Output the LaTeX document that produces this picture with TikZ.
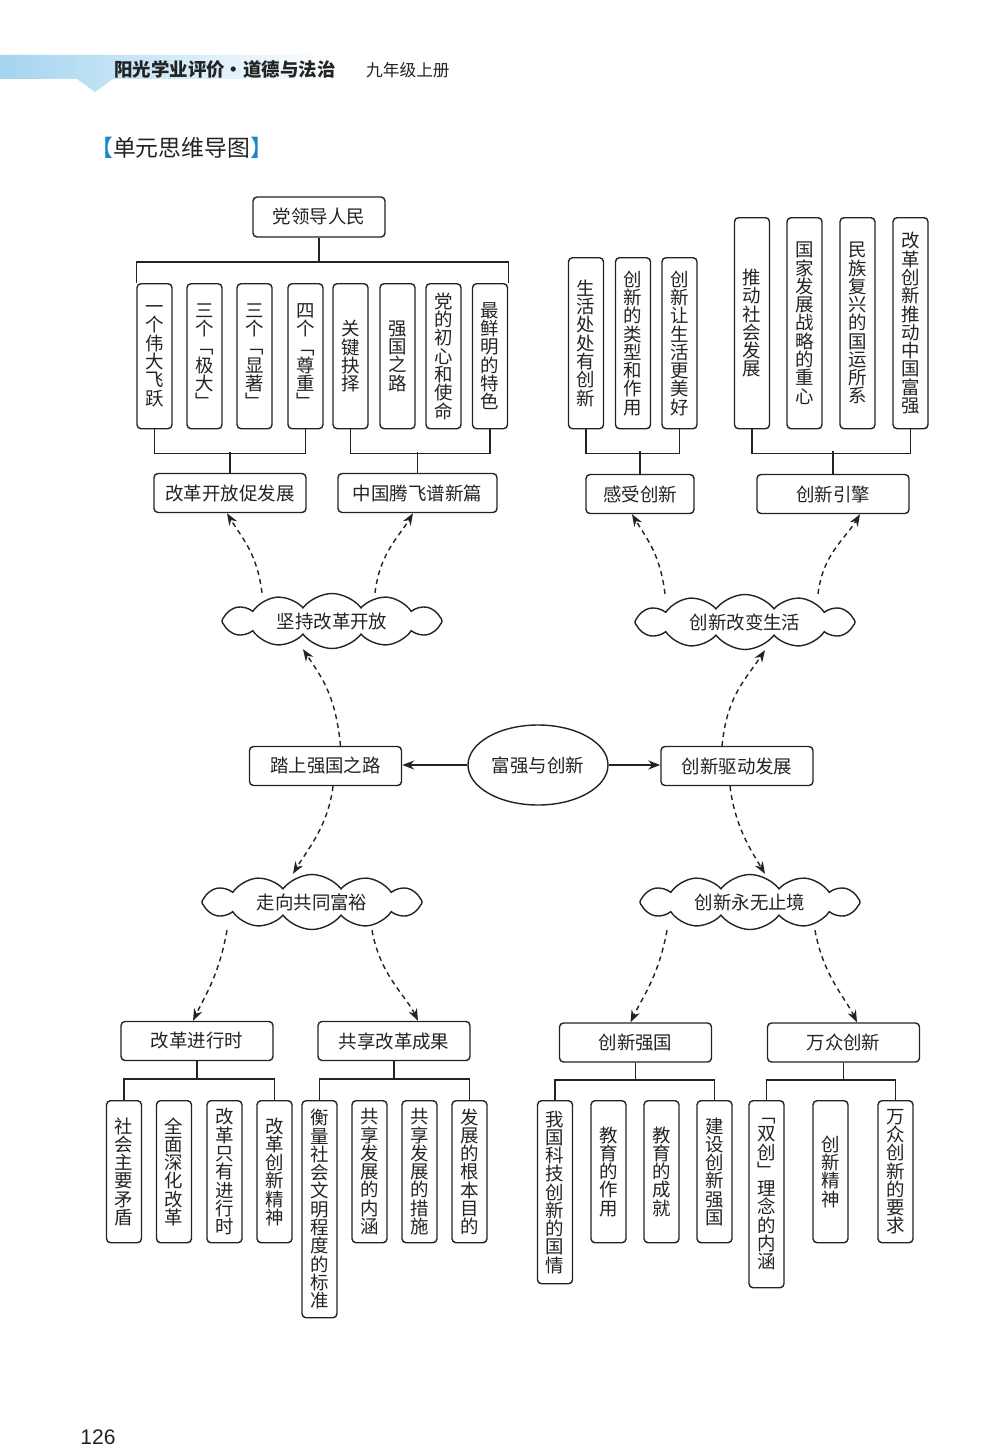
\documentclass[tikz,border=0pt]{standalone}
\usepackage{fontspec}
\setmainfont{Noto Sans CJK SC}
\newfontfamily\numfont{Liberation Sans}
\usetikzlibrary{shapes.geometric,shapes.symbols,arrows.meta}
\definecolor{ink}{RGB}{35,35,35}
\definecolor{sky}{RGB}{95,175,228}
\definecolor{skylight}{RGB}{165,212,240}
\definecolor{bracketblue}{RGB}{25,135,205}
\newcommand\vchars[1]{\vcharsfirst#1\relax}
\def\vcharsfirst#1{#1\vcharsrest}
\def\vcharsrest#1{\ifx#1\relax\else\\#1\expandafter\vcharsrest\fi}
\begin{document}
\begin{tikzpicture}[x=0.2mm, y=-0.2mm,
    every node/.style={font=\fontsize{10.5}{10.4}\selectfont, text=ink},
    rowbox/.style={draw=ink, thick, rounded corners=0.8mm, minimum width=30.4mm,
        minimum height=7.8mm, inner sep=0pt},
    colbox/.style={draw=ink, thick, rounded corners=0.8mm, minimum width=7mm,
        inner sep=0pt, align=center, anchor=north},
    idea/.style={draw=ink, thick, cloud, cloud puffs=12, cloud puff arc=105,
        cloud ignores aspect, minimum width=44mm, minimum height=11mm, inner sep=0pt},
    link/.style={draw=ink, thick, dash pattern=on 1mm off 0.8mm,
        -{Stealth[length=2.4mm,width=1.8mm]}},
    bar/.style={draw=ink, thick}]
\useasboundingbox (0,0) rectangle (1000,1451);

\shade[left color=skylight, middle color=sky, right color=white]
    (0,55) -- (338,55) -- (338,79) -- (113,79) -- (95,92) -- (77,79) -- (0,79) -- cycle;
\node[anchor=west, font=\fontsize{10.5}{10.5}\selectfont\bfseries] (hd) at (108,70) {阳光学业评价·道德与法治};
\node[anchor=west, font=\fontsize{9.5}{9.5}\selectfont] (gr) at (360,70) {九年级上册};
\node[anchor=west, font=\fontsize{13}{13}\selectfont] (ttl) at (84,148)
    {\textcolor{bracketblue}{【}单元思维导图\textcolor{bracketblue}{】}};

\node[draw=ink, thick, ellipse, minimum width=28mm, minimum height=16mm, inner sep=0pt] (root) at (538,765) {富强与创新};
\node[rowbox] (r1) at (325.5,766) {踏上强国之路};
\node[rowbox] (r2) at (737,766) {创新驱动发展};

\node[idea] (k1) at (332,621) {坚持改革开放};
\node[idea] (k2) at (745,622) {创新改变生活};
\node[idea] (k3) at (312,902) {走向共同富裕};
\node[idea] (k4) at (750,902) {创新永无止境};

\node[rowbox, minimum width=26.4mm, minimum height=8mm] (lead) at (319,217) {党领导人民};
\node[rowbox] (g1) at (230,493) {改革开放促发展};
\node[rowbox, minimum width=31.8mm] (g2) at (417.5,493) {中国腾飞谱新篇};
\node[rowbox, minimum width=21.6mm] (g3) at (640,494) {感受创新};
\node[rowbox] (g4) at (833,494) {创新引擎};

\node[colbox, minimum height=29mm] (t1) at (154.5,283) {\vchars{一个伟大飞跃}};
\node[colbox, minimum height=29mm] (t2) at (204.5,283) {\vchars{三个﹁极大﹂}};
\node[colbox, minimum height=29mm] (t3) at (254.5,283) {\vchars{三个﹁显著﹂}};
\node[colbox, minimum height=29mm] (t4) at (305.5,283) {\vchars{四个﹁尊重﹂}};
\node[colbox, minimum height=29mm] (t5) at (350.5,283) {\vchars{关键抉择}};
\node[colbox, minimum height=29mm] (t6) at (397.5,283) {\vchars{强国之路}};
\node[colbox, minimum height=29mm] (t7) at (443.5,283) {\vchars{党的初心和使命}};
\node[colbox, minimum height=29mm] (t8) at (490,283) {\vchars{最鲜明的特色}};

\node[colbox, minimum height=34.2mm] (s1) at (586,257) {\vchars{生活处处有创新}};
\node[colbox, minimum height=34.2mm] (s2) at (633,257) {\vchars{创新的类型和作用}};
\node[colbox, minimum height=34.2mm] (s3) at (679.5,257) {\vchars{创新让生活更美好}};

\node[colbox, minimum height=42.2mm] (e1) at (752,217) {\vchars{推动社会发展}};
\node[colbox, minimum height=42.2mm] (e2) at (804.5,217) {\vchars{国家发展战略的重心}};
\node[colbox, minimum height=42.2mm] (e3) at (857.5,217) {\vchars{民族复兴的国运所系}};
\node[colbox, minimum height=42.2mm] (e4) at (910.5,217) {\vchars{改革创新推动中国富强}};

\node[rowbox] (b1) at (197,1041) {改革进行时};
\node[rowbox] (b2) at (394,1041) {共享改革成果};
\node[rowbox] (c1) at (635.5,1042.5) {创新强国};
\node[rowbox] (c2) at (843.5,1042.5) {万众创新};

\node[colbox, minimum height=28.4mm] (m1) at (124,1100) {\vchars{社会主要矛盾}};
\node[colbox, minimum height=28.4mm] (m2) at (174,1100) {\vchars{全面深化改革}};
\node[colbox, minimum height=28.4mm] (m3) at (224.5,1100) {\vchars{改革只有进行时}};
\node[colbox, minimum height=28.4mm] (m4) at (274.5,1100) {\vchars{改革创新精神}};

\node[colbox, minimum height=43.4mm] (n1) at (319.5,1100) {\vchars{衡量社会文明程度的标准}};
\node[colbox, minimum height=28.4mm] (n2) at (369.5,1100) {\vchars{共享发展的内涵}};
\node[colbox, minimum height=28.4mm] (n3) at (419.5,1100) {\vchars{共享发展的措施}};
\node[colbox, minimum height=28.4mm] (n4) at (469.5,1100) {\vchars{发展的根本目的}};

\node[colbox, minimum height=36.6mm] (p1) at (555,1100) {\vchars{我国科技创新的国情}};
\node[colbox, minimum height=28.4mm] (p2) at (608.5,1100) {\vchars{教育的作用}};
\node[colbox, minimum height=28.4mm] (p3) at (661.5,1100) {\vchars{教育的成就}};
\node[colbox, minimum height=28.4mm] (p4) at (714.5,1100) {\vchars{建设创新强国}};

\node[colbox, minimum height=37.4mm] (q1) at (766.5,1100) {\vchars{﹁双创﹂理念的内涵}};
\node[colbox, minimum height=28.4mm] (q2) at (830.5,1100) {\vchars{创新精神}};
\node[colbox, minimum height=28.4mm] (q3) at (895.5,1100) {\vchars{万众创新的要求}};

\draw[bar] (lead.south) -- ++(0,25);
\draw[bar] (t1.north west) -- ++(0,-21) -| (t8.north east);
\draw[bar] (t1.south) -- ++(0,24) -| (t4.south);
\draw[bar] (g1.north) -- ++(0,-21);
\draw[bar] (t5.south) -- ++(0,24) -| (t8.south);
\draw[bar] (g2.north) -- ++(0,-21);
\draw[bar] (s1.south) -- ++(0,24) -| (s3.south);
\draw[bar] (g3.north) -- ++(0,-22.5);
\draw[bar] (e1.south) -- ++(0,24) -| (e4.south);
\draw[bar] (g4.north) -- ++(0,-22.5);

\draw[bar] (b1.south) -- ++(0,19);
\draw[bar] (m1.north) -- ++(0,-21) -| (m4.north);
\draw[bar] (b2.south) -- ++(0,19);
\draw[bar] (n1.north) -- ++(0,-21) -| (n4.north);
\draw[bar] (c1.south) -- ++(0,18);
\draw[bar] (p1.north) -- ++(0,-20) -| (p4.north);
\draw[bar] (c2.south) -- ++(0,18);
\draw[bar] (q1.north) -- ++(0,-20) -| (q3.north);

\draw[draw=ink, thick, -{Stealth[length=2.4mm,width=1.8mm]}] (root.west) -- (root.west -| r1.east);
\draw[draw=ink, thick, -{Stealth[length=2.4mm,width=1.8mm]}] (root.east) -- (root.east -| r2.west);

\draw[link] ([xshift=-14mm]k1.north) .. controls +(-5,-40) and +(15,25) .. ([xshift=-0.6mm]g1.south);
\draw[link] ([xshift=8.6mm]k1.north) .. controls +(5,-40) and +(-15,25) .. ([xshift=-0.9mm]g2.south);
\draw[link] ([xshift=3mm]r1.north) .. controls +(-5,-50) and +(20,30) .. ([xshift=-5.8mm]k1.south);
\draw[link] ([xshift=1.5mm]r1.south) .. controls +(-5,40) and +(15,-25) .. ([xshift=-3.8mm]k3.north);
\draw[link] ([xshift=-17mm]k3.south) .. controls +(-8,45) and +(12,-25) .. ([xshift=-0.8mm]b1.north);
\draw[link] ([xshift=12mm]k3.south) .. controls +(8,45) and +(-12,-25) .. ([xshift=4.8mm]b2.north);

\draw[link] ([xshift=-16mm]k2.north) .. controls +(-5,-40) and +(15,25) .. ([xshift=-1.6mm]g3.south);
\draw[link] ([xshift=14.6mm]k2.north) .. controls +(5,-40) and +(-15,25) .. ([xshift=5.4mm]g4.south);
\draw[link] ([xshift=-3mm]r2.north) .. controls +(5,-50) and +(-20,30) .. ([xshift=4mm]k2.south);
\draw[link] ([xshift=-1.4mm]r2.south) .. controls +(5,40) and +(-15,-25) .. ([xshift=3mm]k4.north);
\draw[link] ([xshift=-16.6mm]k4.south) .. controls +(-8,45) and +(12,-25) .. ([xshift=-1mm]c1.north);
\draw[link] ([xshift=13mm]k4.south) .. controls +(8,45) and +(-12,-25) .. ([xshift=2.7mm]c2.north);

\node[font=\numfont\fontsize{12}{12}\selectfont] (pg) at (98,1437) {126};
\end{tikzpicture}
\end{document}
